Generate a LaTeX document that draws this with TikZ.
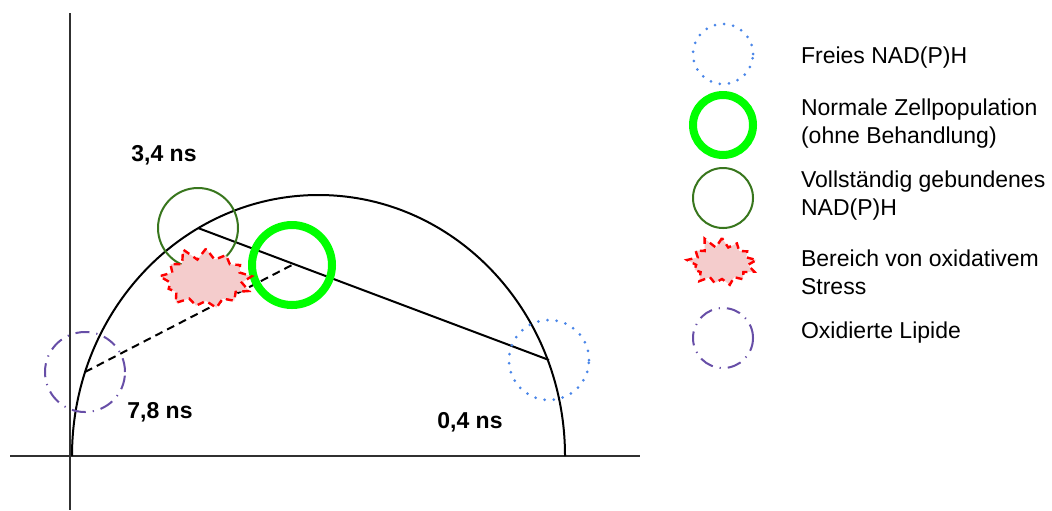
\documentclass[tikz,border=0pt]{standalone}
\usepackage{fontspec}
\setmainfont{Liberation Sans}
\usepackage{tikz}
\usetikzlibrary{shapes.symbols, backgrounds}
\definecolor{freeblue}{HTML}{4A86E8}
\definecolor{cellgreen}{HTML}{00FF00}
\definecolor{boundgreen}{HTML}{38761D}
\definecolor{stressred}{HTML}{FF0000}
\definecolor{stresspink}{HTML}{F4CCCC}
\definecolor{lipidpurple}{HTML}{674EA7}
\definecolor{axisgray}{HTML}{303030}

\begin{document}
\begin{tikzpicture}[
    x=0.5pt, y=-0.5pt,
    bigring/.style={circle, minimum size=40pt, inner sep=0pt},
    smallring/.style={circle, minimum size=30pt, inner sep=0pt},
    freering/.style={draw=freeblue, line width=1.5pt, line cap=round,
                     dash pattern=on 0pt off 4.6pt},
    cellring/.style={draw=cellgreen, line width=4pt},
    boundring/.style={draw=boundgreen, line width=1pt},
    lipidring/.style={draw=lipidpurple, line width=1pt,
                      dash pattern=on 7pt off 3.5pt on 0.6pt off 3.5pt},
    stressburst/.style={starburst, starburst points=13, random starburst=11,
                        draw=stressred, fill=stresspink, line width=1.2pt,
                        dash pattern=on 3.4pt off 2.6pt, inner sep=0pt},
    nslabel/.style={font=\fontsize{11.5}{14}\selectfont\bfseries},
    keytext/.style={anchor=west, align=left,
                    font=\fontsize{11.5}{14}\selectfont}
  ]
    \useasboundingbox (0,0) rectangle (1052,510);

    % axes and phasor arc
    \draw[axisgray, line width=1pt] (70,13) -- (70,510);
    \draw[axisgray, line width=1pt] (10,456) -- (640,456);
    \draw[line width=1pt] (72,456)
      arc[start angle=180, end angle=360, x radius=246.5, y radius=261];

    % lifetimes
    \node[bigring, freering] (free) at (549,360) {};
    \node[bigring, boundring] (bound) at (198,228) {};
    \node[bigring, lipidring] (lipid) at (85,372) {};
    \node[bigring, cellring] (cell) at (292,265) {};
    \node[stressburst, minimum width=50pt, minimum height=35pt,
          starburst point height=7pt] (stress) at (206,280) {};

    \node[nslabel] (t34) at (164,155) {3,4 ns};
    \node[nslabel] (t78) at (160,412) {7,8 ns};
    \node[nslabel] (t04) at (470,422) {0,4 ns};

    \begin{scope}[on background layer]
      \draw[line width=1pt] (bound.center) -- (free.center);
      \draw[line width=1pt, dash pattern=on 4pt off 2.6pt]
        (lipid.center) -- (cell.center);
    \end{scope}

    % legend
    \node[smallring, freering] (keyfree) at (723,54) {};
    \node[smallring, cellring] (keycell) at (723,125) {};
    \node[smallring, boundring] (keybound) at (723,198) {};
    \node[stressburst, minimum width=38pt, minimum height=28pt,
          starburst point height=6pt] (keystress) at (722,263) {};
    \node[smallring, lipidring] (keylipid) at (723,338) {};

    \node[keytext] (txtfree) at (794,58) {Freies NAD(P)H};
    \node[keytext] (txtcell) at (794,124)
      {Normale Zellpopulation\\(ohne Behandlung)};
    \node[keytext] (txtbound) at (794,196)
      {Vollständig gebundenes\\NAD(P)H};
    \node[keytext] (txtstress) at (794,272)
      {Bereich von oxidativem\\Stress};
    \node[keytext] (txtlipid) at (794,333) {Oxidierte Lipide};
  \end{tikzpicture}
\end{document}
